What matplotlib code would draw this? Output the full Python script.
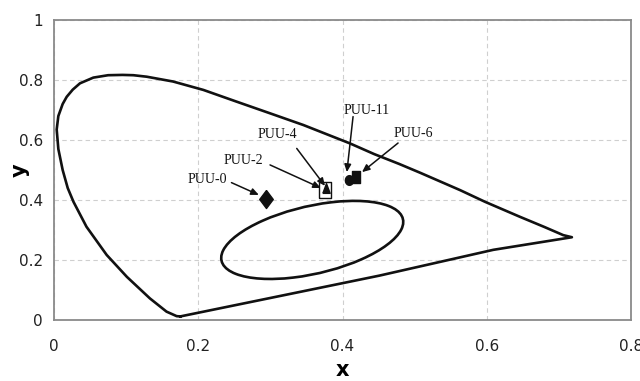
import math
import matplotlib
matplotlib.use("Agg")
import matplotlib.pyplot as plt
from matplotlib.patches import Ellipse

# Spectral locus (horseshoe)
locus_x = [0.175, 0.170, 0.156, 0.133, 0.101, 0.073, 0.045, 0.027, 0.019, 0.012, 0.006, 0.0037,
           0.006, 0.012, 0.0176, 0.026, 0.036, 0.0545, 0.075, 0.095, 0.11, 0.1285, 0.165, 0.207,
           0.253, 0.2995, 0.3457, 0.410, 0.444, 0.4788, 0.5075, 0.563, 0.5976, 0.646, 0.680,
           0.706, 0.718, 0.609, 0.451, 0.175]
locus_y = [0.012, 0.013, 0.028, 0.072, 0.144, 0.217, 0.311, 0.394, 0.44, 0.50, 0.57, 0.635,
           0.68, 0.72, 0.744, 0.768, 0.789, 0.808, 0.816, 0.817, 0.816, 0.811, 0.795, 0.767,
           0.728, 0.689, 0.65, 0.589, 0.553, 0.52, 0.491, 0.433, 0.394, 0.344, 0.31,
           0.283, 0.276, 0.234, 0.148, 0.012]

# Inner ellipse (center x, center y, full width, full height, angle in degrees)
ellipse_center = (0.358, 0.267)
ellipse_width = 0.31
ellipse_height = 0.188
ellipse_angle = 46.9

# Samples
sample_names = ["PUU-0", "PUU-2", "PUU-4", "PUU-11", "PUU-6"]
sample_x = [0.294, 0.3757, 0.377, 0.4087, 0.418]
sample_y = [0.402, 0.433, 0.440, 0.4677, 0.477]

# Label text positions and arrow tails/heads
label_x = [0.212, 0.262, 0.309, 0.4336, 0.4977]
label_y = [0.467, 0.533, 0.617, 0.700, 0.623]
tail_x = [0.246, 0.2995, 0.3365, 0.4146, 0.477]
tail_y = [0.458, 0.517, 0.572, 0.678, 0.590]
head_x = [0.284, 0.370, 0.3757, 0.406, 0.427]
head_y = [0.417, 0.440, 0.447, 0.493, 0.493]

x_ticks = [0, 0.2, 0.4, 0.6, 0.8]
x_ticklabels = ["0", "0.2", "0.4", "0.6", "0.8"]
y_ticks = [0, 0.2, 0.4, 0.6, 0.8, 1]
y_ticklabels = ["0", "0.2", "0.4", "0.6", "0.8", "1"]

fig = plt.figure(figsize=(6.4, 3.81), dpi=100)
ax = fig.add_axes([0.0844, 0.160, 0.9016, 0.7875])
ax.set_xlim(0, 0.8)
ax.set_ylim(0, 1)

ink = "#111111"
ax.plot(locus_x, locus_y, color=ink, lw=1.9, solid_joinstyle="round", zorder=3)
ax.add_patch(Ellipse(ellipse_center, ellipse_width, ellipse_height, angle=ellipse_angle,
                     fill=False, edgecolor=ink, lw=1.9, zorder=3))

diamond = [(0, 1), (0.75, 0), (0, -1), (-0.75, 0), (0, 1)]
rect = [(-0.7, -1), (0.7, -1), (0.7, 1), (-0.7, 1), (-0.7, -1)]
tri = [(-0.75, -1), (0.75, -1), (0, 1), (-0.75, -1)]
ell = [(0.85 * math.cos(t / 20 * 2 * math.pi), math.sin(t / 20 * 2 * math.pi)) for t in range(21)]

styles = [
    dict(marker=diamond, ms=13, mfc=ink, mec=ink),
    dict(marker=rect, ms=12, mfc="white", mec=ink, mew=1.0),
    dict(marker=tri, ms=7, mfc=ink, mec=ink),
    dict(marker=ell, ms=7, mfc=ink, mec=ink),
    dict(marker=rect, ms=8, mfc=ink, mec=ink),
]
for i in range(len(sample_names)):
    ax.plot([sample_x[i]], [sample_y[i]], ls="none", zorder=5 + i, **styles[i])
    ax.text(label_x[i], label_y[i], sample_names[i], family="Liberation Serif", fontsize=10,
            ha="center", va="center", color=ink, zorder=8)
    ax.annotate("", xy=(head_x[i], head_y[i]), xytext=(tail_x[i], tail_y[i]),
                arrowprops=dict(arrowstyle="-|>,head_length=0.45,head_width=0.2",
                                color=ink, lw=1.1, shrinkA=0, shrinkB=0), zorder=8)

ax.set_xticks(x_ticks)
ax.set_xticklabels(x_ticklabels)
ax.set_yticks(y_ticks)
ax.set_yticklabels(y_ticklabels)
for lab in ax.get_xticklabels() + ax.get_yticklabels():
    lab.set_fontfamily(["Liberation Sans Narrow", "DejaVu Sans"])
    lab.set_fontsize(11)
    lab.set_color("#222222")
ax.tick_params(axis="x", length=0, pad=14)
ax.tick_params(axis="y", length=0, pad=8)

ax.grid(True, color="#cfcfcf", lw=0.8, ls=(0, (4, 3)))
ax.set_axisbelow(True)
for s in ax.spines.values():
    s.set_color("#8a8a8a")
    s.set_linewidth(1.3)

ax.set_xlabel("x", family=["Liberation Sans Narrow", "DejaVu Sans"], fontsize=15,
              fontweight="bold")
ax.set_ylabel("y", family=["Liberation Sans Narrow", "DejaVu Sans"], fontsize=15,
              fontweight="bold")
ax.xaxis.set_label_coords(0.5, -0.168)
ax.yaxis.set_label_coords(-0.059, 0.5)
ax.xaxis.label.set_va("center")
ax.yaxis.label.set_va("center")

fig.savefig("out.png", dpi=100)
